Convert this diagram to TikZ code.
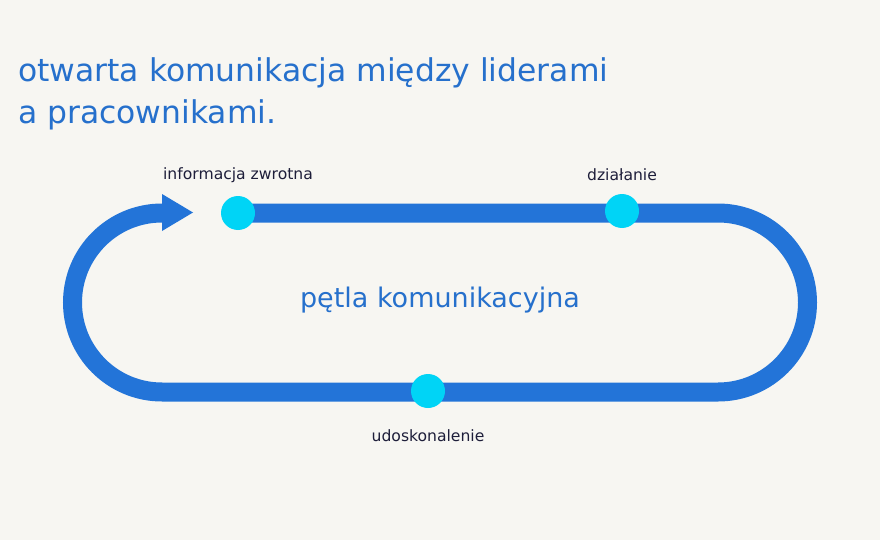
\documentclass[tikz,border=0pt]{standalone}
\usepackage{fontspec}
\setmainfont{DejaVu Sans}
\usetikzlibrary{positioning}
\definecolor{bgpaper}{HTML}{F7F6F2}
\definecolor{bandblue}{HTML}{2374D8}
\definecolor{dotcyan}{HTML}{00D4F6}
\definecolor{titleblue}{HTML}{2670CC}
\definecolor{lbldark}{HTML}{1E1E3A}

\begin{document}
\begin{tikzpicture}[x=1pt,y=-1pt,
		band/.style={line width=19pt,bandblue},
		dot/.style={circle,fill=dotcyan,minimum size=34pt,inner sep=0pt},
		lbl/.style={font=\fontsize{15.6}{18}\selectfont,text=lbldark}]
		\useasboundingbox[fill=bgpaper] (0,0) rectangle (880,540);
		\node[anchor=north west,align=left,inner sep=0pt,text=titleblue,
			font=\fontsize{31.4}{42}\selectfont] (title) at (18,57)
			{otwarta komunikacja między liderami\\a pracownikami.};
		% the loop
		\draw[band] (238,213) -- (718,213) arc(-90:90:89.5) -- (162,392) arc(90:270:89.5);
		\fill[bandblue] (162,194) -- (193,212.5) -- (162,231) -- cycle;
		\node[dot] (fb) at (238,213) {};
		\node[dot] (act) at (622,211) {};
		\node[dot] (imp) at (428,391) {};
		\node[lbl,above=10pt of fb] (fblbl) {informacja zwrotna};
		\node[lbl,above=10pt of act] (actlbl) {działanie};
		\node[lbl,below=18pt of imp] (implbl) {udoskonalenie};
		\node[text=titleblue,font=\fontsize{27}{30}\selectfont] (loop) at (440,300) {pętla komunikacyjna};
\end{tikzpicture}
\end{document}
